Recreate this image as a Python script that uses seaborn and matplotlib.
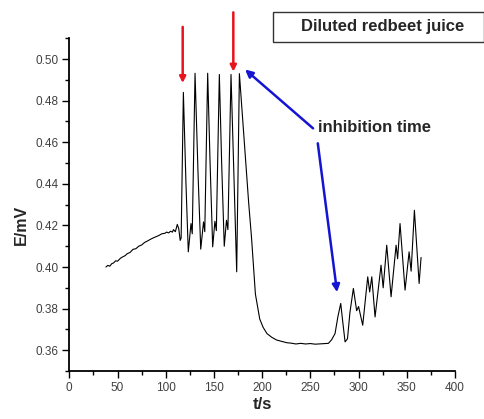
import matplotlib
matplotlib.use("Agg")
import matplotlib.pyplot as plt
import seaborn as sns
import pandas as pd
from matplotlib.ticker import MultipleLocator, FormatStrFormatter
from matplotlib.patches import Rectangle

# ---- data ----
t_s = [38, 40, 42, 44, 46, 48, 50, 53, 55, 58, 60, 63, 66, 69, 72, 75, 78, 81, 84, 87, 90, 93, 96,
       99, 101, 103, 105, 107, 108, 110, 112, 113.5, 115, 116,
       118.3, 121, 123.4, 126.2, 127.5, 130.4, 133.5, 136.3, 139.2, 140.5, 143.5,
       146, 148.7, 151, 152.5, 155.6, 158, 160.7, 163, 164.5, 167.7, 173.6, 176.4,
       186, 189, 193, 197.5, 201, 205, 210, 215, 225.5, 230, 235, 240, 245, 250, 255, 262, 268.7,
       272, 275.6, 278.5, 281.5, 283.5, 286, 288.5, 291, 294.6, 298, 300, 304.3,
       309.5, 311.5, 313.7, 317.1, 323.3, 325.5, 329.2, 333.7, 338.9, 340.5, 343,
       348.2, 352.4, 354.5, 357.9, 362.8, 364.8]
E_mV = [0.4000, 0.4008, 0.4004, 0.4016, 0.4020, 0.4030, 0.4028, 0.4042, 0.4048, 0.4055, 0.4064,
        0.4070, 0.4085, 0.4088, 0.4100, 0.4106, 0.4118, 0.4125, 0.4133, 0.4140, 0.4146, 0.4152,
        0.4160, 0.4162, 0.4168, 0.4164, 0.4172, 0.4168, 0.4180, 0.4170, 0.4205, 0.4185, 0.4128, 0.4140,
        0.4840, 0.4400, 0.4073, 0.4209, 0.4160, 0.4932, 0.4450, 0.4086, 0.4217, 0.4170, 0.4932,
        0.4500, 0.4097, 0.4220, 0.4175, 0.4926, 0.4500, 0.4100, 0.4225, 0.4180, 0.4926, 0.3977, 0.4930,
        0.4310, 0.4140, 0.3870, 0.3750, 0.3710, 0.3680, 0.3662, 0.3649, 0.3636, 0.3634, 0.3630,
        0.3633, 0.3630, 0.3632, 0.3629, 0.3631, 0.3633,
        0.3650, 0.3680, 0.3760, 0.3825, 0.3740, 0.3640, 0.3655, 0.3780, 0.3897, 0.3790, 0.3810, 0.3720,
        0.3953, 0.3880, 0.3953, 0.3760, 0.4009, 0.3900, 0.4105, 0.3857, 0.4105, 0.4040, 0.4209,
        0.3889, 0.4073, 0.3980, 0.4273, 0.3921, 0.4046]

x_ticks = [0, 50, 100, 150, 200, 250, 300, 350, 400]
y_ticks = [0.36, 0.38, 0.40, 0.42, 0.44, 0.46, 0.48, 0.50]
title_text = "Diluted redbeet juice"
note_text = "inhibition time"
x_label = "t/s"
y_label = "E/mV"

df = pd.DataFrame({"t": t_s, "E": E_mV})

sns.set_theme(style="ticks")
plt.rcParams["font.family"] = ["Liberation Sans", "DejaVu Sans"]

fig = plt.figure(figsize=(4.85, 4.19), dpi=100)
W, H = 485, 419
ax = fig.add_axes([69.3 / W, (H - 371) / H, (455 - 69.3) / W, (371 - 38.3) / H])

sns.lineplot(data=df, x="t", y="E", ax=ax, color="black", lw=0.8, sort=False, estimator=None)

ax.set_xlim(0, 400)
ax.set_ylim(0.35, 0.51)
ax.set_xticks(x_ticks)
ax.set_yticks(y_ticks)
ax.xaxis.set_minor_locator(MultipleLocator(25))
ax.yaxis.set_minor_locator(MultipleLocator(0.01))
ax.yaxis.set_major_formatter(FormatStrFormatter("%.2f"))
ax.set_xlabel("")
ax.set_ylabel("")
for s in ["top", "right"]:
    ax.spines[s].set_visible(False)
for s in ["left", "bottom"]:
    ax.spines[s].set_linewidth(1.3)
    ax.spines[s].set_color("black")
ax.tick_params(axis="both", which="major", direction="out", length=5, width=1.0,
               color="black", labelsize=8.5, labelcolor="#404040", pad=3)
ax.tick_params(axis="both", which="minor", direction="out", length=3, width=1.0, color="black")

# axis labels
fig.text(262 / W, 1 - 404 / H, x_label, ha="center", va="center", fontsize=12, fontweight="bold")
fig.text(21 / W, 1 - 225 / H, y_label, ha="center", va="center", rotation=90, fontsize=11.5,
         fontweight="bold")

# title box
fig.patches.append(Rectangle((273 / W, 1 - 41.7 / H), (484 - 273) / W, 30 / H,
                             transform=fig.transFigure, fill=False, edgecolor="#333333", lw=1.0))
fig.text(383 / W, 1 - 26.5 / H, title_text, ha="center", va="center", fontsize=12, fontweight="bold")

# red arrows
red = dict(arrowstyle="-|>", color="#e8141c", lw=1.8, mutation_scale=9, shrinkA=0, shrinkB=0)
ax.annotate("", xy=(117.6, 0.4885), xytext=(117.6, 0.5155), arrowprops=red, annotation_clip=False)
ax.annotate("", xy=(170.1, 0.4940), xytext=(170.1, 0.5225), arrowprops=red, annotation_clip=False)

# blue arrows + note
blue = dict(arrowstyle="-|>", color="#1414d2", lw=1.8, mutation_scale=11, shrinkA=0, shrinkB=0)
ax.annotate("", xy=(182.3, 0.4950), xytext=(252.8, 0.4667), arrowprops=blue)
ax.annotate("", xy=(277.7, 0.3879), xytext=(257.7, 0.4595), arrowprops=blue)
fig.text(318 / W, 1 - 127 / H, note_text, ha="left", va="center", fontsize=12, fontweight="bold")

fig.savefig("out.png", dpi=100)
